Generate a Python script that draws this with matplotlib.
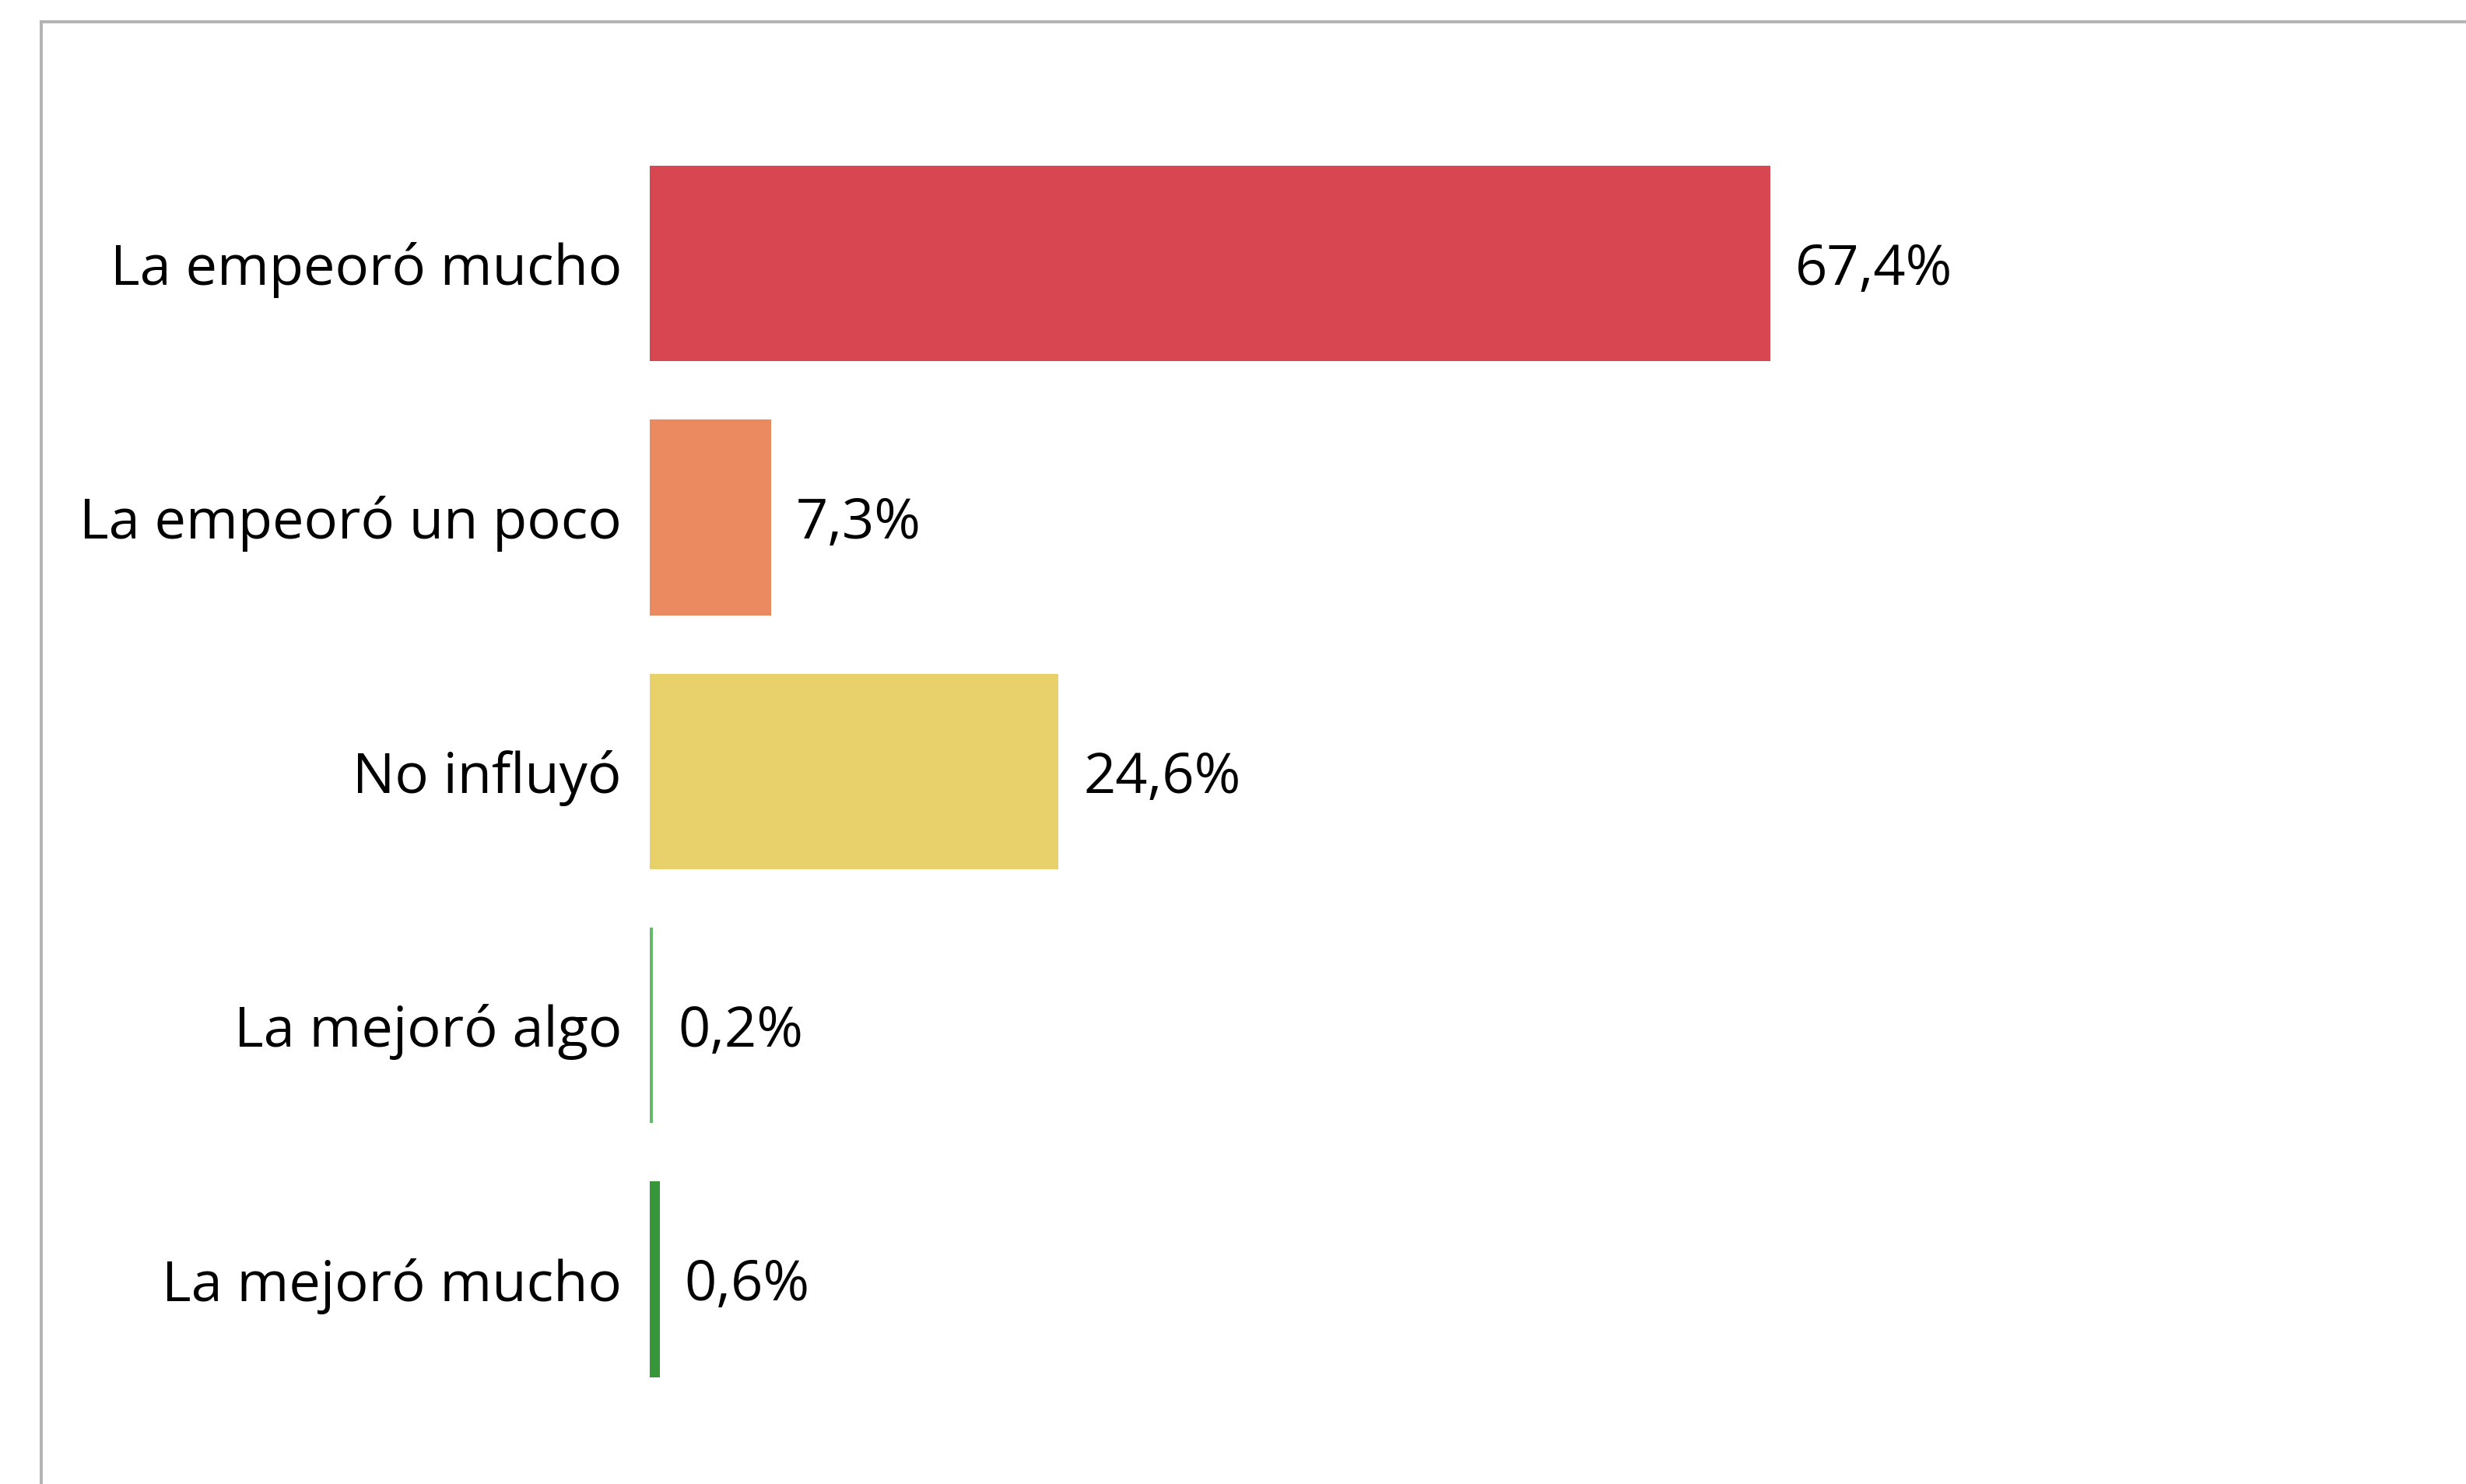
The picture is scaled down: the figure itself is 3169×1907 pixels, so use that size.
import matplotlib
matplotlib.use("Agg")
import matplotlib.pyplot as plt
from matplotlib.lines import Line2D

categories = ["La empeoró mucho", "La empeoró un poco", "No influyó", "La mejoró algo", "La mejoró mucho"]
values = [67.4, 7.3, 24.6, 0.2, 0.6]
value_labels = ["67,4%", "7,3%", "24,6%", "0,2%", "0,6%"]
colors = ["#d84651", "#eb8a60", "#e8d16a", "#66b86a", "#38963a"]

plt.rcParams['font.family'] = ['Open Sans', 'DejaVu Sans']

W, H = 3169, 1907
dpi = 100
fig = plt.figure(figsize=(W / dpi, H / dpi), dpi=dpi)
fig.patch.set_facecolor("white")

left = 835 / W
width = 2136 / W
top_px, bot_px = 175.3, 1807.3
ax = fig.add_axes([left, 1 - bot_px / H, width, (bot_px - top_px) / H])

ypos = list(range(len(categories)))
ax.barh(ypos, values, height=0.77, color=colors)
ax.set_xlim(0, 100)
ax.set_ylim(len(categories) - 0.5, -0.5)

fs = 52
for y, v, lab in zip(ypos, values, value_labels):
    ax.annotate(lab, (v, y), xytext=(23, 0), textcoords="offset points",
                va="center_baseline", ha="left", fontsize=fs, color="black")

ax.set_yticks(ypos)
ax.set_yticklabels(categories, fontsize=fs)
ax.tick_params(axis="y", length=0, pad=26)
ax.set_xticks([])
for s in ax.spines.values():
    s.set_visible(False)

# outer frame lines (top and left)
lw = 4 * 72 / dpi
fig.add_artist(Line2D([53 / W, 1], [1 - 28 / H, 1 - 28 / H], transform=fig.transFigure,
                      color="#b4b4b4", lw=lw, solid_capstyle="butt"))
fig.add_artist(Line2D([53 / W, 53 / W], [0, 1 - 26 / H], transform=fig.transFigure,
                      color="#b4b4b4", lw=lw, solid_capstyle="butt"))

fig.savefig("out.png", dpi=dpi, facecolor="white")
